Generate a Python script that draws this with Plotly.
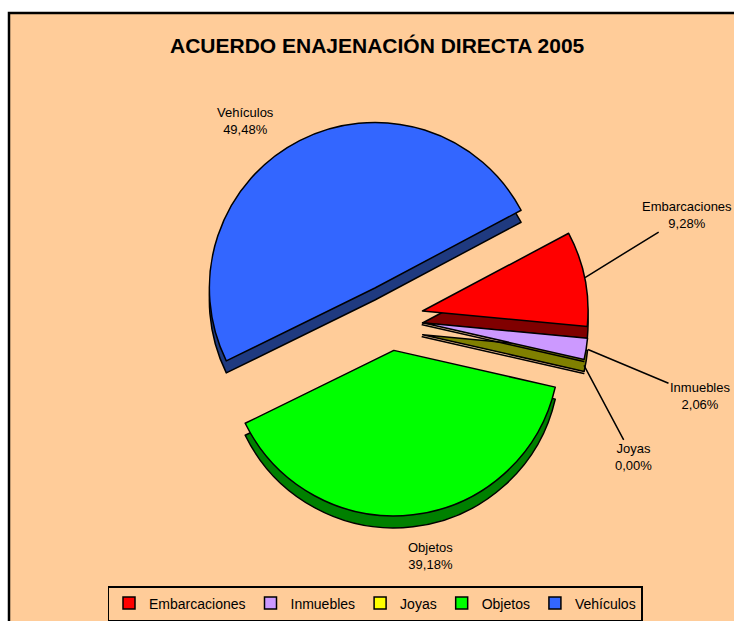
import plotly.graph_objects as go

categories = ["Embarcaciones", "Inmuebles", "Joyas", "Objetos", "Vehículos"]
values = [9.28, 2.06, 0.00, 39.18, 49.48]
top_colors = ["#FF0000", "#CC99FF", "#FFFF00", "#00FF00", "#3366FF"]
side_colors = ["#800000", "#808000", "#808000", "#008000", "#1F3A80"]
title_text = "ACUERDO ENAJENACIÓN DIRECTA 2005"

W, H = 734, 621
FONT = "Arial, Liberation Sans, sans-serif"

def px(x):
    return x / W

def py(y):
    return 1 - y / H

pulls = [0.2] * len(values)
rotation = 62
depth = 12  # px of 3D thickness

x0, x1 = 190, 590
y0, y1 = 119, 517

fig = go.Figure()
# side (depth) layer
fig.add_trace(go.Pie(
    labels=categories, values=values, sort=False, direction="clockwise",
    rotation=rotation, pull=pulls, textinfo="none", hoverinfo="skip",
    marker=dict(colors=side_colors, line=dict(color="black", width=1.5)),
    domain=dict(x=[px(x0), px(x1)], y=[py(y1 + depth), py(y0 + depth)]),
    showlegend=False,
))
# top layer
fig.add_trace(go.Pie(
    labels=categories, values=values, sort=False, direction="clockwise",
    rotation=rotation, pull=pulls, textinfo="none",
    marker=dict(colors=top_colors, line=dict(color="black", width=1.5)),
    domain=dict(x=[px(x0), px(x1)], y=[py(y1), py(y0)]),
    showlegend=True,
))

def pct(v):
    return f"{v:.2f}".replace(".", ",") + "%"

# label placements: (text center x, y, arrow tip x, y or None)
label_pos = {
    "Embarcaciones": (687, 215, 585, 278),
    "Inmuebles": (700, 397, 588, 350),
    "Joyas": (633, 458, 584, 366),
    "Objetos": (430, 557, None, None),
    "Vehículos": (245, 121, None, None),
}
annotations = []
for cat, v in zip(categories, values):
    tx, ty, ax_, ay_ = label_pos[cat]
    txt = f"{cat}<br>{pct(v)}"
    if ax_ is None:
        annotations.append(dict(x=px(tx), y=py(ty), xref="paper", yref="paper",
                                xanchor="center", yanchor="middle",
                                text=txt, showarrow=False,
                                font=dict(family=FONT, size=13, color="black")))
    else:
        annotations.append(dict(x=px(ax_), y=py(ay_), xref="paper", yref="paper",
                                text=txt, showarrow=True, arrowhead=0,
                                arrowwidth=1.5, arrowcolor="black",
                                ax=tx - ax_, ay=ty - ay_,
                                font=dict(family=FONT, size=13, color="black")))

annotations.append(dict(x=px(377), y=py(46), xref="paper", yref="paper",
                        xanchor="center", yanchor="middle",
                        text=f"<b>{title_text}</b>", showarrow=False,
                        font=dict(family=FONT, size=21, color="black")))

fig.update_layout(
    width=W, height=H,
    margin=dict(l=0, r=0, t=0, b=0),
    paper_bgcolor="white",
    plot_bgcolor="white",
    annotations=annotations,
    shapes=[dict(type="rect", xref="paper", yref="paper",
                 x0=px(9), x1=1.02, y0=-0.02, y1=py(13),
                 fillcolor="#FFCC99", line=dict(color="black", width=2.5),
                 layer="below")],
    legend=dict(orientation="h", x=px(375), xanchor="center", y=py(604),
                yanchor="middle", bgcolor="#FFCC99", bordercolor="black",
                borderwidth=1.5, font=dict(family=FONT, size=14, color="black"),
                itemwidth=30, tracegroupgap=0),
)

fig.write_html("out.html", config={"displayModeBar": False},
               post_script="document.body.style.margin='0';document.body.style.overflow='hidden';")
